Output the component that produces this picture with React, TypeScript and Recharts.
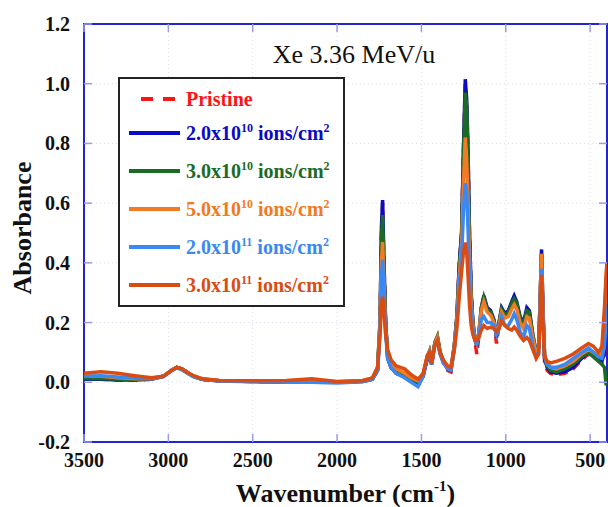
import React from "react";
import { LineChart, Line, XAxis, YAxis, CartesianGrid, ReferenceArea, Legend } from "recharts";

// wavenumber grid, cm-1 (descending)
const WAVENUMBER = [
  3500, 3400, 3300, 3200, 3100, 3030, 2980, 2950, 2920, 2880,
  2850, 2800, 2700, 2500, 2300, 2150, 2000, 1850, 1790, 1760,
  1745, 1737, 1730, 1722, 1712, 1700, 1680, 1650, 1600, 1560,
  1520, 1490, 1465, 1452, 1440, 1420, 1405, 1390, 1370, 1345,
  1325, 1305, 1290, 1275, 1262, 1250, 1240, 1232, 1224, 1215,
  1205, 1195, 1183, 1172, 1160, 1145, 1130, 1110, 1090, 1070,
  1055, 1040, 1025, 1005, 985, 965, 950, 935, 915, 895,
  875, 860, 840, 820, 805, 795, 788, 780, 770, 755,
  735, 700, 650, 600, 550, 510, 480, 450, 430, 415,
  405, 400,
];

const PRISTINE = [
  0.01, 0.01, 0.008, 0.008, 0.01, 0.02, 0.04, 0.05, 0.045, 0.03,
  0.02, 0.01, 0.005, 0.003, 0.0, 0.002, 0.0, 0.003, 0.01, 0.04,
  0.2, 0.5, 0.6, 0.4, 0.2, 0.08, 0.05, 0.03, 0.02, 0.01,
  -0.005, 0.02, 0.08, 0.1, 0.055, 0.13, 0.15, 0.1, 0.065, 0.04,
  0.035, 0.12, 0.22, 0.4, 0.5, 0.8, 1.0, 0.94, 0.78, 0.5,
  0.3, 0.2, 0.14, 0.095, 0.15, 0.24, 0.28, 0.24, 0.23, 0.2,
  0.13, 0.19, 0.24, 0.22, 0.23, 0.26, 0.28, 0.26, 0.21, 0.19,
  0.24, 0.23, 0.15, 0.09, 0.11, 0.3, 0.43, 0.24, 0.07, 0.04,
  0.03, 0.025, 0.03, 0.045, 0.075, 0.095, 0.085, 0.075, 0.065, 0.09,
  0.18, 0.22,
];

const DOSE_2E10 = [
  0.01, 0.01, 0.008, 0.008, 0.01, 0.02, 0.04, 0.05, 0.045, 0.03,
  0.02, 0.01, 0.005, 0.003, 0.0, 0.002, 0.0, 0.003, 0.01, 0.04,
  0.2, 0.52, 0.61, 0.4, 0.2, 0.08, 0.05, 0.03, 0.02, 0.01,
  -0.005, 0.02, 0.08, 0.1, 0.06, 0.13, 0.15, 0.1, 0.07, 0.045,
  0.04, 0.12, 0.22, 0.4, 0.5, 0.8, 1.015, 0.95, 0.78, 0.5,
  0.3, 0.2, 0.15, 0.12, 0.16, 0.25, 0.29, 0.25, 0.24, 0.21,
  0.15, 0.2, 0.25, 0.23, 0.24, 0.27, 0.29, 0.27, 0.22, 0.2,
  0.25, 0.24, 0.16, 0.1, 0.12, 0.3, 0.445, 0.25, 0.08, 0.05,
  0.035, 0.03, 0.035, 0.05, 0.08, 0.1, 0.09, 0.08, 0.07, 0.1,
  0.15, 0.2,
];

const DOSE_3E10 = [
  0.012, 0.012, 0.01, 0.01, 0.012, 0.02, 0.04, 0.05, 0.045, 0.03,
  0.02, 0.01, 0.005, 0.004, 0.002, 0.003, 0.001, 0.004, 0.012, 0.045,
  0.21, 0.48, 0.56, 0.38, 0.2, 0.085, 0.055, 0.035, 0.022, 0.012,
  0.0, 0.025, 0.085, 0.105, 0.065, 0.135, 0.155, 0.105, 0.07, 0.05,
  0.045, 0.125, 0.22, 0.39, 0.49, 0.78, 0.97, 0.93, 0.76, 0.48,
  0.29, 0.2, 0.15, 0.125, 0.16, 0.25, 0.285, 0.245, 0.235, 0.205,
  0.155, 0.2, 0.245, 0.225, 0.235, 0.265, 0.28, 0.265, 0.215, 0.195,
  0.24, 0.235, 0.16, 0.1, 0.12, 0.3, 0.43, 0.25, 0.085, 0.055,
  0.04, 0.035, 0.045, 0.06, 0.085, 0.1, 0.085, 0.07, 0.06, 0.05,
  -0.01, 0.0,
];

const DOSE_5E10 = [
  0.02, 0.02, 0.015, 0.012, 0.012, 0.02, 0.04, 0.05, 0.045, 0.03,
  0.02, 0.012, 0.006, 0.005, 0.004, 0.008, 0.002, 0.005, 0.015, 0.05,
  0.2, 0.4, 0.47, 0.33, 0.18, 0.09, 0.065, 0.045, 0.03, 0.015,
  0.005, 0.025, 0.09, 0.105, 0.065, 0.13, 0.15, 0.1, 0.07, 0.05,
  0.045, 0.12, 0.21, 0.36, 0.46, 0.68, 0.82, 0.75, 0.62, 0.42,
  0.27, 0.19, 0.145, 0.13, 0.16, 0.24, 0.27, 0.235, 0.225, 0.2,
  0.16, 0.19, 0.235, 0.215, 0.22, 0.245, 0.26, 0.245, 0.2, 0.18,
  0.22, 0.215, 0.15, 0.095, 0.115, 0.3, 0.43, 0.25, 0.09, 0.06,
  0.05, 0.045, 0.055, 0.07, 0.095, 0.11, 0.1, 0.09, 0.1, 0.22,
  0.35, 0.4,
];

const DOSE_2E11 = [
  0.02, 0.022, 0.018, 0.014, 0.012, 0.02, 0.04, 0.048, 0.042, 0.028,
  0.018, 0.01, 0.004, 0.002, 0.0, 0.0, -0.002, 0.002, 0.01, 0.04,
  0.17, 0.35, 0.41, 0.3, 0.16, 0.08, 0.05, 0.03, 0.015, 0.0,
  -0.015, 0.02, 0.085, 0.1, 0.06, 0.125, 0.14, 0.095, 0.065, 0.045,
  0.04, 0.11, 0.2, 0.33, 0.42, 0.58, 0.667, 0.64, 0.52, 0.35,
  0.24, 0.18, 0.14, 0.13, 0.15, 0.21, 0.22, 0.2, 0.2, 0.19,
  0.16, 0.18, 0.22, 0.19, 0.19, 0.21, 0.23, 0.21, 0.17, 0.15,
  0.19, 0.18, 0.12, 0.085, 0.1, 0.26, 0.38, 0.22, 0.09, 0.06,
  0.05, 0.05, 0.06, 0.08, 0.1, 0.115, 0.1, 0.085, 0.08, 0.12,
  0.22, 0.26,
];

const DOSE_3E11 = [
  0.03, 0.035, 0.03, 0.022, 0.015, 0.02, 0.04, 0.05, 0.045, 0.03,
  0.022, 0.012, 0.006, 0.005, 0.006, 0.012, 0.003, 0.005, 0.015, 0.05,
  0.16, 0.26, 0.287, 0.24, 0.16, 0.11, 0.075, 0.055, 0.045, 0.025,
  0.01, 0.03, 0.09, 0.1, 0.065, 0.125, 0.14, 0.1, 0.075, 0.055,
  0.05, 0.11, 0.18, 0.29, 0.37, 0.44, 0.468, 0.44, 0.36, 0.26,
  0.19, 0.16, 0.14, 0.14, 0.15, 0.175, 0.19, 0.18, 0.185, 0.18,
  0.17, 0.18, 0.205, 0.19, 0.18, 0.175, 0.185, 0.175, 0.155, 0.14,
  0.15, 0.14, 0.11, 0.08, 0.095, 0.24, 0.36, 0.2, 0.09, 0.07,
  0.065, 0.07, 0.08, 0.095, 0.115, 0.13, 0.12, 0.1, 0.12, 0.25,
  0.36, 0.4,
];

const X_TICKS = [3500, 3000, 2500, 2000, 1500, 1000, 500];
const Y_TICKS = [-0.2, 0, 0.2, 0.4, 0.6, 0.8, 1.0, 1.2];

const SERIES = [
  { key: "pristine", values: PRISTINE, color: "#ff1414", dash: "9 6", mant: "Pristine", exp: "" },
  { key: "d2e10", values: DOSE_2E10, color: "#0b0bc4", dash: undefined, mant: "2.0x10", exp: "10" },
  { key: "d3e10", values: DOSE_3E10, color: "#1b6a26", dash: undefined, mant: "3.0x10", exp: "10" },
  { key: "d5e10", values: DOSE_5E10, color: "#f27a22", dash: undefined, mant: "5.0x10", exp: "10" },
  { key: "d2e11", values: DOSE_2E11, color: "#3a88f2", dash: undefined, mant: "2.0x10", exp: "11" },
  { key: "d3e11", values: DOSE_3E11, color: "#da4c12", dash: undefined, mant: "3.0x10", exp: "11" },
];

const data = WAVENUMBER.map((w, i) => {
  const row: Record<string, number> = { w };
  SERIES.forEach((s) => (row[s.key] = s.values[i]));
  return row;
});

const FONT = "'Liberation Serif', 'Times New Roman', serif";
const FRAME = "#2424d0";
const TICK = "#9a9af0";
const TOP = 24;
const LEFT = 84;
const W = 608;
const H = 507;
const RIGHT = 607;
const BOTTOM = 442;

const XTick = (props: any) => {
  const { x, y, payload } = props;
  return (
    <g>
      <line x1={x} x2={x} y1={BOTTOM} y2={BOTTOM - 8} stroke={TICK} strokeWidth={1.5} />
      <line x1={x} x2={x} y1={TOP} y2={TOP + 8} stroke={TICK} strokeWidth={1.5} />
      <text x={x} y={y + 25} textAnchor="middle" fontFamily={FONT} fontWeight="bold" fontSize={20} fill="#111">
        {payload.value}
      </text>
    </g>
  );
};

const YTick = (props: any) => {
  const { x, y, payload } = props;
  return (
    <g>
      <line x1={LEFT} x2={LEFT + 8} y1={y} y2={y} stroke={TICK} strokeWidth={1.5} />
      <line x1={RIGHT} x2={RIGHT - 8} y1={y} y2={y} stroke={TICK} strokeWidth={1.5} />
      <text x={x - 14} y={y + 7} textAnchor="end" fontFamily={FONT} fontWeight="bold" fontSize={20} fill="#111">
        {Number(payload.value).toFixed(1)}
      </text>
    </g>
  );
};

const ROW_Y = [22, 56, 94, 132, 170, 208];

const LegendBox = () => (
  <svg width={227} height={230} style={{ display: "block" }}>
    <rect x={1} y={1} width={225} height={228} fill="#fff" stroke="#222" strokeWidth={2} />
    {SERIES.map((s, i) => (
      <g key={s.key}>
        <line
          x1={s.dash ? 23 : 11}
          x2={62}
          y1={ROW_Y[i]}
          y2={ROW_Y[i]}
          stroke={s.color}
          strokeWidth={4}
          strokeDasharray={s.dash ? "12 10" : undefined}
        />
        <text x={68} y={ROW_Y[i] + 7} fontFamily={FONT} fontWeight="bold" fontSize={20} fill={s.color}>
          {s.mant}
          {s.exp && (
            <>
              <tspan fontSize={12} dy={-8}>{s.exp}</tspan>
              <tspan dy={8}> ions/cm</tspan>
              <tspan fontSize={12} dy={-8}>2</tspan>
            </>
          )}
        </text>
      </g>
    ))}
  </svg>
);

export default function App() {
  return (
    <div style={{ position: "absolute", left: 0, top: 0, width: W, height: H, background: "#fff" }}>
      <LineChart width={W} height={H} data={data} margin={{ top: TOP, right: W - RIGHT, left: 24, bottom: 35 }}>
        <CartesianGrid stroke="#dcdcea" strokeDasharray="1 3" />
        <XAxis
          dataKey="w"
          type="number"
          domain={[400, 3500]}
          reversed
          ticks={X_TICKS}
          interval={0}
          allowDataOverflow
          height={30}
          tickSize={0}
          tickMargin={0}
          axisLine={false}
          tickLine={false}
          tick={<XTick />}
          label={{
            content: (p: any) => (
              <text
                x={p.viewBox.x + p.viewBox.width / 2}
                y={502}
                textAnchor="middle"
                fontFamily={FONT}
                fontWeight="bold"
                fontSize={26}
                fill="#111"
              >
                Wavenumber (cm
                <tspan fontSize={15} dy={-11}>-1</tspan>
                <tspan dy={11}>)</tspan>
              </text>
            ),
          }}
        />
        <YAxis
          type="number"
          domain={[-0.2, 1.2]}
          ticks={Y_TICKS}
          interval={0}
          allowDataOverflow
          width={60}
          tickSize={0}
          tickMargin={0}
          axisLine={false}
          tickLine={false}
          tick={<YTick />}
          label={{
            content: () => (
              <text
                x={31}
                y={228}
                transform="rotate(-90 31 228)"
                textAnchor="middle"
                fontFamily={FONT}
                fontWeight="bold"
                fontSize={26}
                fill="#111"
              >
                Absorbance
              </text>
            ),
          }}
        />
        {SERIES.map((s) => (
          <Line
            key={s.key}
            dataKey={s.key}
            name={s.key}
            type="linear"
            stroke={s.color}
            strokeWidth={3.5}
            strokeDasharray={s.dash}
            dot={false}
            isAnimationActive={false}
          />
        ))}
        <ReferenceArea
          x1={3500}
          x2={400}
          y1={-0.2}
          y2={1.2}
          fill="none"
          stroke={FRAME}
          strokeWidth={2}
          label={{
            content: (p: any) => (
              <text x={p.viewBox.x + 270} y={63} textAnchor="middle" fontFamily={FONT} fontSize={26} fill="#111">
                Xe 3.36 MeV/u
              </text>
            ),
          }}
        />
        <Legend
          verticalAlign="middle"
          align="center"
          layout="horizontal"
          wrapperStyle={{ left: 118, top: 77, width: 227, height: 230 }}
          content={() => <LegendBox />}
        />
      </LineChart>
    </div>
  );
}
